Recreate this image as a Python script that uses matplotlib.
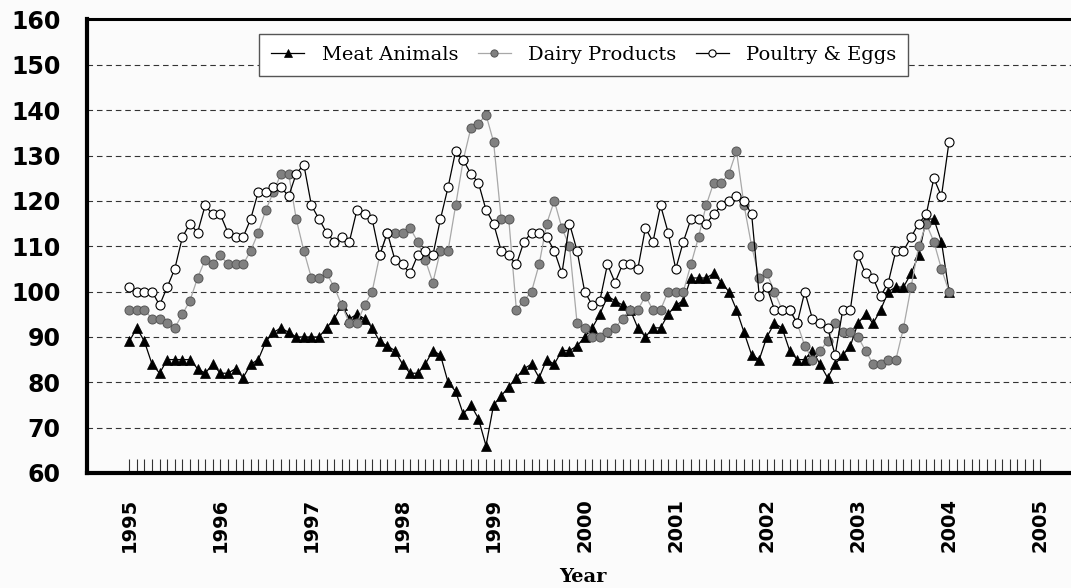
import numpy as np
import matplotlib
matplotlib.use("Agg")
import matplotlib.pyplot as plt

# ---------------- data (monthly, Jan 1995 - Jan 2004) ----------------
years = list(range(1995, 2006))
series_names = ["Meat Animals", "Dairy Products", "Poultry & Eggs"]

meat_animals = [89, 92, 89, 84, 82, 85, 85, 85, 85, 83, 82, 84, 82, 82, 83, 81, 84, 85, 89, 91, 92, 91,
                90, 90, 90, 90, 92, 94, 97, 94, 95, 94, 92, 89, 88, 87, 84, 82, 82, 84, 87, 86, 80, 78,
                73, 75, 72, 66, 75, 77, 79, 81, 83, 84, 81, 85, 84, 87, 87, 88, 90, 92, 95, 99, 98,
                97, 96, 92, 90, 92, 92, 95, 97, 98, 103, 103, 103, 104, 102, 100, 96, 91, 86, 85, 90, 93,
                92, 87, 85, 85, 87, 84, 81, 84, 86, 88, 93, 95, 93, 96, 100, 101, 101, 104, 108, 116, 116, 111, 100]

dairy_products = [96, 96, 96, 94, 94, 93, 92, 95, 98, 103, 107, 106, 108, 106, 106, 106, 109, 113, 118, 122, 126, 126,
                  116, 109, 103, 103, 104, 101, 97, 93, 93, 97, 100, 108, 113, 113, 113, 114, 111, 107, 102, 109, 109, 119,
                  129, 136, 137, 139, 133, 116, 116, 96, 98, 100, 106, 115, 120, 114, 110, 93, 92, 90, 90, 91, 92,
                  94, 96, 96, 99, 96, 96, 100, 100, 100, 106, 112, 119, 124, 124, 126, 131, 119, 110, 103, 104, 100,
                  96, 96, 93, 88, 85, 87, 89, 93, 91, 91, 90, 87, 84, 84, 85, 85, 92, 101, 110, 115, 111, 105, 100]

poultry_eggs = [101, 100, 100, 100, 97, 101, 105, 112, 115, 113, 119, 117, 117, 113, 112, 112, 116, 122, 122, 123, 123, 121,
                126, 128, 119, 116, 113, 111, 112, 111, 118, 117, 116, 108, 113, 107, 106, 104, 108, 109, 108, 116, 123, 131,
                129, 126, 124, 118, 115, 109, 108, 106, 111, 113, 113, 112, 109, 104, 115, 109, 100, 97, 98, 106, 102,
                106, 106, 105, 114, 111, 119, 113, 105, 111, 116, 116, 115, 117, 119, 120, 121, 120, 117, 99, 101, 96,
                96, 96, 93, 100, 94, 93, 92, 86, 96, 96, 108, 104, 103, 99, 102, 109, 109, 112, 115, 117, 125, 121, 133]

y_ticks = list(range(60, 161, 10))

# ---------------- figure ----------------
bg = "#fbfbfb"
fig = plt.figure(figsize=(10.71, 5.88), dpi=100)
fig.patch.set_facecolor(bg)
ax = fig.add_axes([0.0812, 0.1956, 0.9188, 0.7713])
ax.set_facecolor(bg)

x = np.arange(len(meat_animals))
h1, = ax.plot(x, meat_animals, color="black", lw=0.9, marker="^", ms=6.8,
              mfc="black", mec="black", mew=0.5, label=series_names[0], zorder=3)
h2, = ax.plot(x, dairy_products, color="#a8a8a8", lw=0.9, marker="o", ms=6.5,
              mfc="#808080", mec="#555555", mew=0.7, label=series_names[1], zorder=4)
h3, = ax.plot(x, poultry_eggs, color="black", lw=0.9, marker="o", ms=6.5,
              mfc="white", mec="black", mew=0.8, label=series_names[2], zorder=5)

ax.set_xlim(-5.57, 124.07)
ax.set_ylim(60, 160)

# x axis: year labels + monthly inner ticks
year_pos = [12 * (yr - years[0]) for yr in years]
ax.set_xticks(year_pos)
ax.set_xticklabels([str(yr) for yr in years], rotation=90,
                   fontsize=14, fontweight="bold", family="DejaVu Sans")
ax.set_xticks(np.arange(0, 12 * (years[-1] - years[0]) + 1), minor=True)
ax.tick_params(axis="x", which="both", direction="in", length=10, width=0.8,
               color="#333333", pad=18)

# y axis
ax.set_yticks(y_ticks)
ax.set_yticklabels([str(v) for v in y_ticks], fontsize=17, fontweight="bold",
                   family="DejaVu Sans")
ax.tick_params(axis="y", length=0, pad=19)
ax.yaxis.grid(True, linestyle=(0, (5, 3.5)), color="#333333", lw=0.8)
ax.set_axisbelow(True)

for side, lw in [("left", 3.0), ("bottom", 3.0), ("top", 2.2)]:
    ax.spines[side].set_linewidth(lw)
    ax.spines[side].set_color("black")
ax.spines["right"].set_visible(False)

ax.set_xlabel("Year", fontsize=14, fontweight="bold", family="DejaVu Serif")
ax.xaxis.set_label_coords(0.504, -0.229)
ax.xaxis.label.set_va("center")

leg = ax.legend(handles=[h1, h2, h3], loc="center", bbox_to_anchor=(0.505, 0.922),
                ncol=3, prop={"family": "DejaVu Serif", "size": 14},
                handlelength=1.7, handletextpad=0.9, columnspacing=1.0,
                borderpad=0.6, fancybox=False, framealpha=1, markerscale=0.8)
leg.get_frame().set_edgecolor("#555555")
leg.get_frame().set_linewidth(1.0)
leg.get_frame().set_facecolor("white")
leg.set_zorder(10)

fig.savefig("out.png", dpi=100, facecolor=bg)
